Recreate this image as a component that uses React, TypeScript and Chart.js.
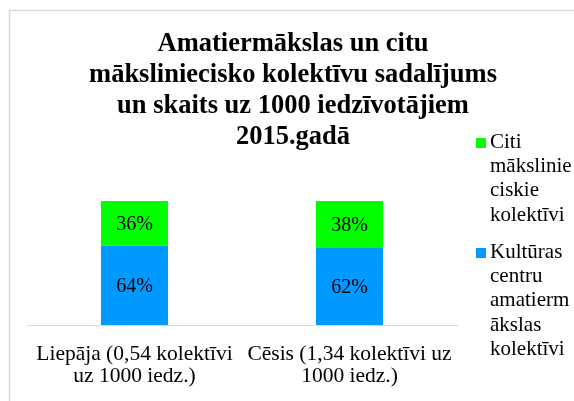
import React, { useEffect, useRef } from 'react';
import { Chart, registerables } from 'chart.js';

Chart.register(...registerables);

const categories: string[][] = [
  ['Liepāja (0,54 kolektīvi', 'uz 1000 iedz.)'],
  ['Cēsis (1,34 kolektīvi uz', '1000 iedz.)'],
];
const cultureCentreShare = [0.64, 0.62];
const otherCollectiveShare = [0.36, 0.38];
const seriesNames = ['Kultūras centru amatiermākslas kolektīvi', 'Citi mākslinieciskie kolektīvi'];
const legendLines: string[][] = [
  ['Kultūras', 'centru', 'amatierm', 'ākslas', 'kolektīvi'],
  ['Citi', 'mākslinie', 'ciskie', 'kolektīvi'],
];
const titleLines = [
  'Amatiermākslas un citu',
  'māksliniecisko kolektīvu sadalījums',
  'un skaits uz 1000 iedzīvotājiem',
  '2015.gadā',
];
const seriesColors = ['#0099ff', '#00ff00'];

const SERIF = '"Liberation Serif", "Times New Roman", serif';

const decorPlugin = {
  id: 'decor',
  afterDraw(chart: any) {
    const ctx = chart.ctx as CanvasRenderingContext2D;
    ctx.save();
    // frame
    ctx.strokeStyle = '#d9d9d9';
    ctx.lineWidth = 1.5;
    ctx.beginPath();
    ctx.moveTo(9.5, chart.height);
    ctx.lineTo(9.5, 10.5);
    ctx.lineTo(chart.width, 10.5);
    ctx.stroke();

    // title
    ctx.fillStyle = '#000';
    ctx.font = `bold 26.5px ${SERIF}`;
    ctx.textAlign = 'center';
    ctx.textBaseline = 'alphabetic';
    titleLines.forEach((line, i) => {
      ctx.fillText(line, 293, 51 + i * 31);
    });

    // data labels
    ctx.font = `20px ${SERIF}`;
    ctx.textBaseline = 'middle';
    chart.data.datasets.forEach((ds: any, di: number) => {
      const meta = chart.getDatasetMeta(di);
      meta.data.forEach((el: any, i: number) => {
        const v = ds.data[i] as number;
        const yMid = (el.y + el.base) / 2;
        ctx.fillText(Math.round(v * 100) + '%', el.x, yMid + 1);
      });
    });

    // legend (reverse order, like the original)
    ctx.textAlign = 'left';
    ctx.textBaseline = 'alphabetic';
    ctx.font = `21px ${SERIF}`;
    const starts = [148, 258];
    const order = [1, 0];
    order.forEach((di, k) => {
      const base = starts[k];
      ctx.fillStyle = seriesColors[di];
      ctx.fillRect(476, base - 10, 10, 10);
      ctx.fillStyle = '#000';
      legendLines[di].forEach((line, j) => {
        ctx.fillText(line, 490, base + j * 24.2);
      });
    });
    ctx.restore();
  },
};

export default function App() {
  const ref = useRef<HTMLCanvasElement>(null);
  useEffect(() => {
    document.body.style.margin = '0';
    const chart = new Chart(ref.current!, {
      type: 'bar',
      data: {
        labels: categories,
        datasets: [
          {
            label: seriesNames[0],
            data: cultureCentreShare,
            backgroundColor: seriesColors[0],
            borderWidth: 0,
            categoryPercentage: 1,
            barPercentage: 0.312,
          },
          {
            label: seriesNames[1],
            data: otherCollectiveShare,
            backgroundColor: seriesColors[1],
            borderWidth: 0,
            categoryPercentage: 1,
            barPercentage: 0.312,
          },
        ],
      },
      options: {
        responsive: false,
        animation: false,
        layout: { padding: { left: 27, right: 117, top: 201, bottom: 0 } },
        plugins: { legend: { display: false }, title: { display: false }, tooltip: { enabled: false } },
        scales: {
          x: {
            stacked: true,
            grid: { display: false, drawTicks: false },
            border: { display: true, color: '#d9d9d9', width: 1 },
            ticks: {
              color: '#000',
              font: { family: SERIF, size: 21.5, lineHeight: 1.03 },
              padding: 18,
              autoSkip: false,
              maxRotation: 0,
              minRotation: 0,
            },
            afterFit: (scale: any) => {
              scale.height = 76;
            },
          },
          y: { stacked: true, display: false, min: 0, max: 1 },
        },
      },
      plugins: [decorPlugin],
    });
    return () => chart.destroy();
  }, []);
  return (
    <div style={{ width: 574, height: 401, background: '#fff' }}>
      <canvas ref={ref} width={574} height={401} />
    </div>
  );
}
